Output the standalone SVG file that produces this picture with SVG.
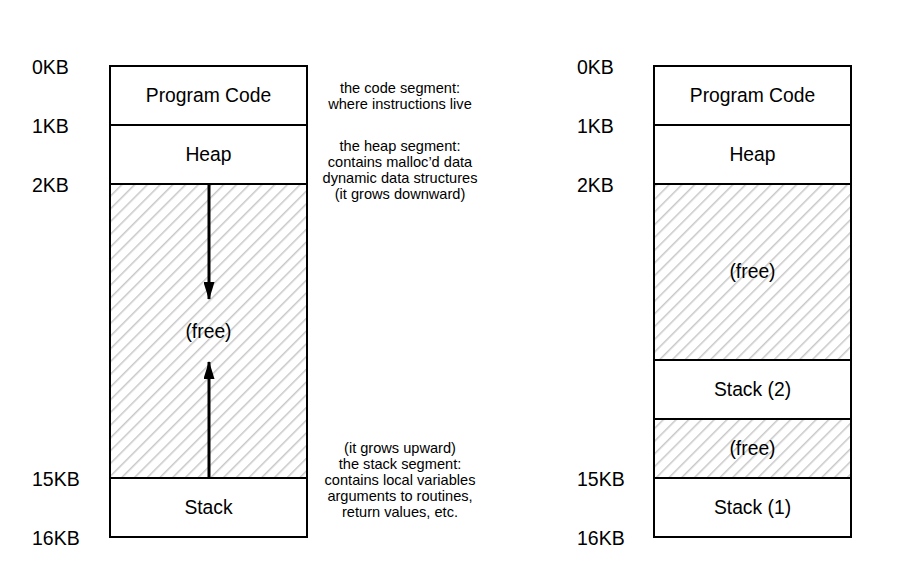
<svg xmlns="http://www.w3.org/2000/svg" width="922" height="572" viewBox="0 0 922 572">
<defs>
<pattern id="hatch" patternUnits="userSpaceOnUse" width="9" height="9" patternTransform="rotate(45)">
<line x1="0" y1="0" x2="0" y2="9" stroke="#c8c8c8" stroke-width="3"/>
</pattern>
<marker id="ah" viewBox="0 0 18 11" refX="17" refY="5.5" markerWidth="18" markerHeight="11" markerUnits="userSpaceOnUse" orient="auto">
<path d="M0,0 L18,5.5 L0,11 Z" fill="#000"/>
</marker>
</defs>
<style>
.box{fill:#fff;stroke:#000;stroke-width:2}
.free{fill:url(#hatch);stroke:#000;stroke-width:2}
.t{font-family:"Liberation Sans",Arial,sans-serif;font-size:19.3px;fill:#000;text-anchor:middle}
.kb{font-family:"Liberation Sans",Arial,sans-serif;font-size:19.5px;fill:#000}
.ann{font-family:"Liberation Sans",Arial,sans-serif;font-size:14.6px;fill:#000;text-anchor:middle}
.arr{stroke:#000;stroke-width:3;fill:none}
</style>
<rect width="922" height="572" fill="#fff"/>
<g id="labels-left">
<text class="kb" x="32" y="74">0KB</text>
<text class="kb" x="32" y="133">1KB</text>
<text class="kb" x="32" y="192">2KB</text>
<text class="kb" x="32" y="486">15KB</text>
<text class="kb" x="32" y="545">16KB</text>
</g>
<g id="left-code"><rect class="box" x="110" y="66" width="197" height="59"/><text class="t" x="208.5" y="102">Program Code</text></g>
<g id="left-heap"><rect class="box" x="110" y="125" width="197" height="59"/><text class="t" x="208.5" y="161">Heap</text></g>
<g id="left-free"><rect class="free" x="110" y="184" width="197" height="294"/><text class="t" x="208.5" y="338">(free)</text></g>
<g id="left-stack"><rect class="box" x="110" y="478" width="197" height="59"/><text class="t" x="208.5" y="514">Stack</text></g>
<g id="connectors">
<line class="arr" x1="209" y1="185" x2="209" y2="299" marker-end="url(#ah)"/>
<line class="arr" x1="209" y1="477" x2="209" y2="362" marker-end="url(#ah)"/>
</g>
<g id="annotations">
<text class="ann" x="400" y="93">the code segment:</text>
<text class="ann" x="400" y="109">where instructions live</text>
<text class="ann" x="400" y="151">the heap segment:</text>
<text class="ann" x="400" y="167">contains malloc’d data</text>
<text class="ann" x="400" y="183">dynamic data structures</text>
<text class="ann" x="400" y="199">(it grows downward)</text>
<text class="ann" x="400" y="453">(it grows upward)</text>
<text class="ann" x="400" y="469">the stack segment:</text>
<text class="ann" x="400" y="485">contains local variables</text>
<text class="ann" x="400" y="501">arguments to routines,</text>
<text class="ann" x="400" y="517">return values, etc.</text>
</g>
<g id="labels-right">
<text class="kb" x="577" y="74">0KB</text>
<text class="kb" x="577" y="133">1KB</text>
<text class="kb" x="577" y="192">2KB</text>
<text class="kb" x="577" y="486">15KB</text>
<text class="kb" x="577" y="545">16KB</text>
</g>
<g id="right-code"><rect class="box" x="654" y="66" width="197" height="59"/><text class="t" x="752.5" y="102">Program Code</text></g>
<g id="right-heap"><rect class="box" x="654" y="125" width="197" height="59"/><text class="t" x="752.5" y="161">Heap</text></g>
<g id="right-free1"><rect class="free" x="654" y="184" width="197" height="176"/><text class="t" x="752.5" y="278">(free)</text></g>
<g id="right-stack2"><rect class="box" x="654" y="360" width="197" height="59"/><text class="t" x="752.5" y="396">Stack (2)</text></g>
<g id="right-free2"><rect class="free" x="654" y="419" width="197" height="59"/><text class="t" x="752.5" y="455">(free)</text></g>
<g id="right-stack1"><rect class="box" x="654" y="478" width="197" height="59"/><text class="t" x="752.5" y="514">Stack (1)</text></g>
</svg>
